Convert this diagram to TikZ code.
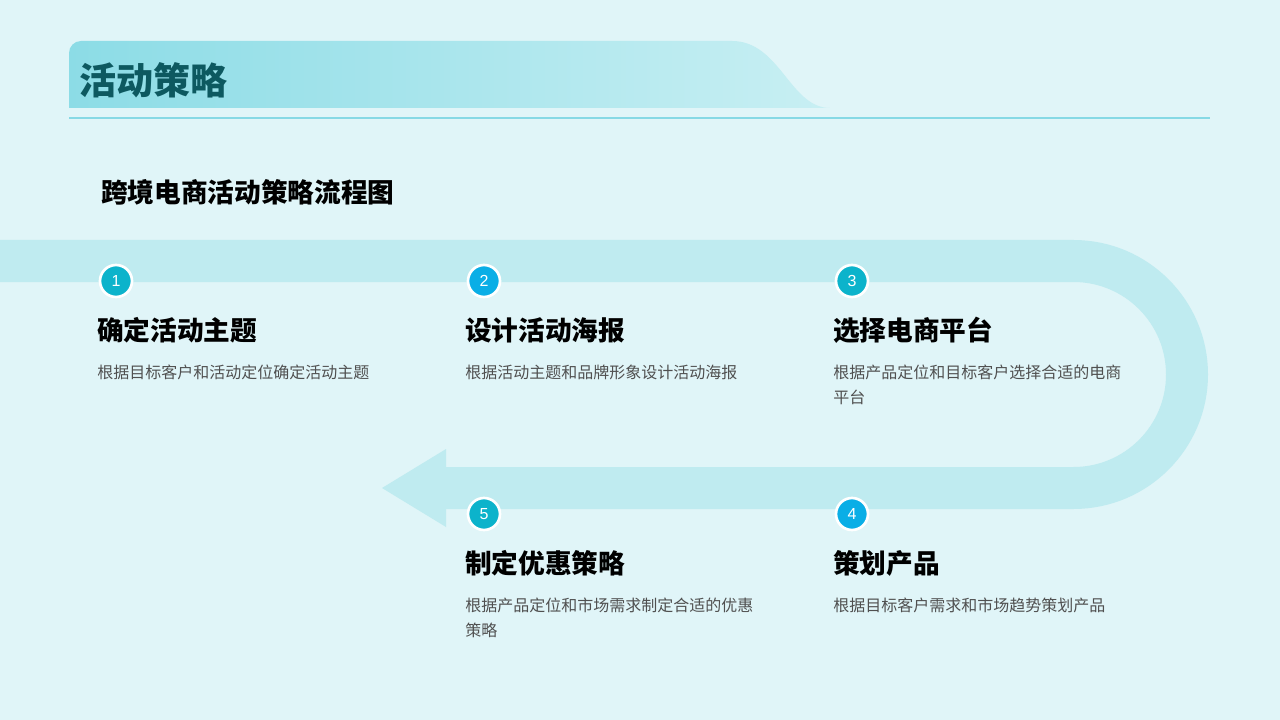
\documentclass[tikz,border=0pt]{standalone}
\usepackage{fontspec}
\usetikzlibrary{positioning}
\newfontfamily\cjk{Noto Sans CJK SC}
\newfontfamily\numfont{Liberation Sans}
\definecolor{bgcyan}{HTML}{E0F5F8}
\definecolor{bandcyan}{HTML}{BFEBF0}
\definecolor{linecyan}{HTML}{86D9E5}
\definecolor{bannerleft}{HTML}{8CDCE6}
\definecolor{bannerright}{HTML}{C8EFF3}
\definecolor{titleteal}{HTML}{0D5960}
\definecolor{dotteal}{HTML}{0CB3CB}
\definecolor{dotblue}{HTML}{0AAEE6}
\definecolor{descgray}{HTML}{505050}

\begin{document}
\begin{tikzpicture}[x=0.75pt, y=-0.75pt,
  dot/.style={circle, draw=white, line width=2pt, fill=dotteal, minimum size=24pt,
              inner sep=0pt, text=white, font=\numfont\fontsize{12}{12}\selectfont},
  head/.style={anchor=base west, inner sep=0pt, font=\cjk\bfseries\fontsize{20}{24}\selectfont},
  desc/.style={anchor=base west, inner sep=0pt, align=left, text=descgray,
               font=\cjk\fontsize{12}{18.75}\selectfont},
  band/.style={draw=bandcyan, line width=31.5pt}
]
  \fill[bgcyan] (0,0) rectangle (1280,720);
  \useasboundingbox (0,0) rectangle (1280,720);

  \path[left color=bannerleft, right color=bannerright]
    (69,108) -- (69,53) arc[start angle=180, end angle=90, radius=9pt]
    -- (732,41) .. controls (780,41) and (790,108) .. (830,108) -- cycle;
  \draw[linecyan, line width=0.8pt] (69,118) -- (1210,118);
  \node[anchor=base west, inner sep=0pt, text=titleteal,
        font=\cjk\bfseries\fontsize{27.75}{30}\selectfont] (title) at (79,94.5) {活动策略};
  \node[anchor=base west, inner sep=0pt, font=\cjk\bfseries\fontsize{20}{24}\selectfont]
    (sub) at (101,203) {跨境电商活动策略流程图};

  \draw[band] (0,261) -- (1073.5,261)
    arc[start angle=90, end angle=-90, radius=85.125pt] -- (445,488);
  \fill[bandcyan] (446,449) -- (382,488) -- (446,527) -- cycle;

  \node[dot] (c1) at (116,281) {1};
  \node[dot, fill=dotblue] (c2) at (484,281) {2};
  \node[dot] (c3) at (852,281) {3};
  \node[dot, fill=dotblue] (c4) at (852,514) {4};
  \node[dot] (c5) at (484,514) {5};

  \node[head] (h1) at ([xshift=-14.25pt, yshift=-44.25pt]c1.center) {确定活动主题};
  \node[head] (h2) at ([xshift=-14.25pt, yshift=-44.25pt]c2.center) {设计活动海报};
  \node[head] (h3) at ([xshift=-14.25pt, yshift=-44.25pt]c3.center) {选择电商平台};
  \node[head] (h4) at ([xshift=-14.25pt, yshift=-44.25pt]c4.center) {策划产品};
  \node[head] (h5) at ([xshift=-14.25pt, yshift=-44.25pt]c5.center) {制定优惠策略};

  \node[desc] (d1) at ([yshift=-28.5pt]h1.base west) {根据目标客户和活动定位确定活动主题};
  \node[desc] (d2) at ([yshift=-28.5pt]h2.base west) {根据活动主题和品牌形象设计活动海报};
  \node[desc] (d3) at ([yshift=-47.25pt]h3.base west) {根据产品定位和目标客户选择合适的电商\\平台};
  \node[desc] (d4) at ([yshift=-28.5pt]h4.base west) {根据目标客户需求和市场趋势策划产品};
  \node[desc] (d5) at ([yshift=-47.25pt]h5.base west) {根据产品定位和市场需求制定合适的优惠\\策略};
\end{tikzpicture}
\end{document}
